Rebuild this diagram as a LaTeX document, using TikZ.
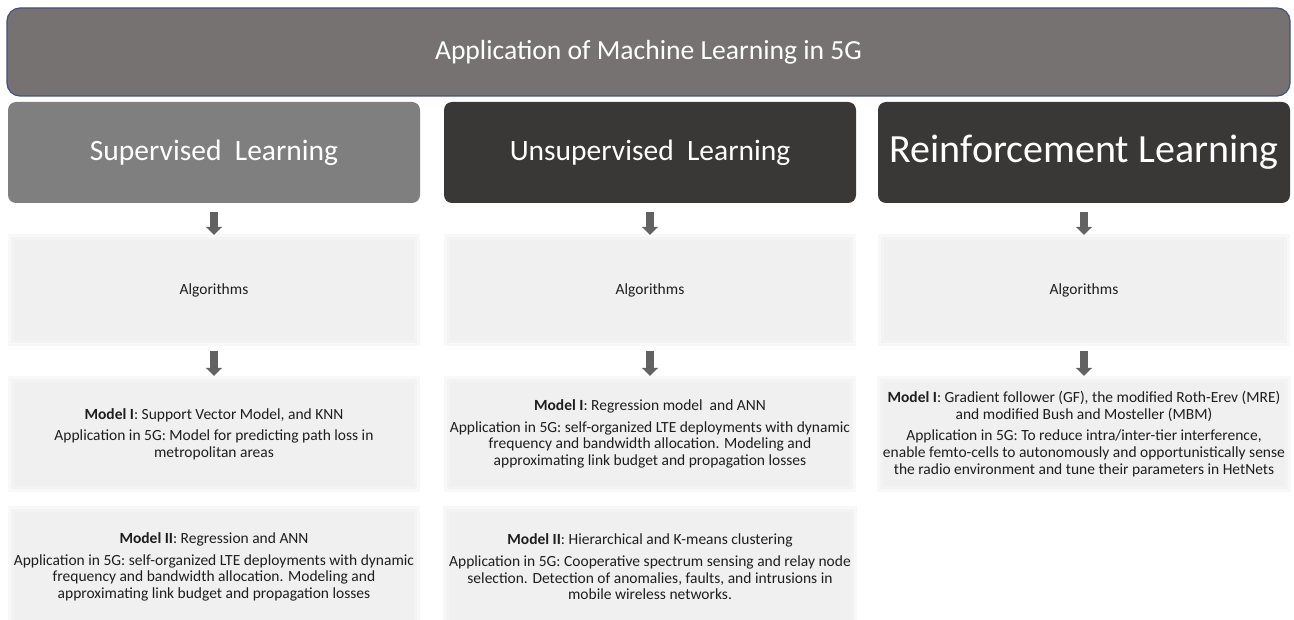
\documentclass[tikz,border=0pt]{standalone}
\usepackage{fontspec}
\setmainfont{Carlito}
\usetikzlibrary{arrows.meta}
\definecolor{bannerfill}{HTML}{777272}
\definecolor{bannerline}{HTML}{46507E}
\definecolor{supgray}{HTML}{7F7F7F}
\definecolor{darkhead}{HTML}{3A3737}
\definecolor{lightbox}{HTML}{F0F0F0}
\definecolor{lightedgea}{HTML}{F3F3F3}
\definecolor{lightedgeb}{HTML}{F8F8F8}
\definecolor{arrowgray}{HTML}{626262}
\definecolor{textdark}{HTML}{1E1E1E}
\begin{document}
\begin{tikzpicture}[x=1pt,y=-1pt,
  bannerbox/.style={fill=bannerfill, draw=bannerline, line width=1.2pt, rounded corners=13pt,
    minimum width=1283pt, minimum height=88pt, text=white, inner sep=0pt,
    font=\fontsize{27.6}{32}\selectfont},
  headbox/.style={rounded corners=8pt, minimum width=412pt, minimum height=101pt,
    text=white, inner sep=0pt, font=\fontsize{29.5}{34}\selectfont},
  softbox/.style={fill=lightbox,
    preaction={draw=lightedgeb, line width=12pt},
    preaction={draw=lightedgea, line width=6pt},
    minimum width=400pt,
    align=center, inner sep=0pt, text=textdark, font=\fontsize{15.5}{16.6}\selectfont},
  downarrow/.style={draw=arrowgray, line width=8pt, -{Triangle[width=16pt,length=8pt]}}
]
\useasboundingbox (0,0) rectangle (1294,620);
\fill[white] (0,0) rectangle (1294,620);

% banner
\node[bannerbox] (top) at (648.5,52) {Application of Machine Learning in 5G};

% headers
\node[headbox, fill=supgray] (h1) at (214,152.5) {\raisebox{-3pt}{Supervised~~Learning}};
\node[headbox, fill=darkhead] (h2) at (650,152.5) {\raisebox{-3pt}{Unsupervised~~Learning}};
\node[headbox, fill=darkhead, font=\fontsize{40}{44}\selectfont] (h3) at (1084,152.5) {Reinforcement Learning};

% algorithm boxes
\node[softbox, minimum height=100pt] (a1) at (214,290) {Algorithms};
\node[softbox, minimum height=100pt] (a2) at (650,290) {Algorithms};
\node[softbox, minimum height=100pt] (a3) at (1084,290) {Algorithms};

% model I boxes
\node[softbox, minimum height=104pt] (m1a) at (214,434) {\textbf{Model I}: Support Vector Model, and KNN\\[5pt]
Application in 5G: Model for predicting path loss in\\ metropolitan areas};
\node[softbox, minimum height=104pt] (m1b) at (650,434) {\textbf{Model I}: Regression model~~and ANN\\[5pt]
Application in 5G: self-organized LTE deployments with dynamic\\
frequency and bandwidth allocation. Modeling and\\
approximating link budget and propagation losses};
\node[softbox, minimum height=104pt] (m1c) at (1084,434) {\textbf{Model I}: Gradient follower (GF), the modified Roth-Erev (MRE)\\
and modified Bush and Mosteller (MBM)\\[5pt]
Application in 5G: To reduce intra/inter-tier interference,\\
enable femto-cells to autonomously and opportunistically sense\\
the radio environment and tune their parameters in HetNets};

% model II boxes
\node[softbox, minimum height=110pt] (m2a) at (214,567) {\textbf{Model II}: Regression and ANN\\[5pt]
Application in 5G: self-organized LTE deployments with dynamic\\
frequency and bandwidth allocation. Modeling and\\
approximating link budget and propagation losses};
\node[softbox, minimum height=110pt] (m2b) at (650,567) {\textbf{Model II}: Hierarchical and K-means clustering\\[5pt]
Application in 5G: Cooperative spectrum sensing and relay node\\
selection. Detection of anomalies, faults, and intrusions in\\
mobile wireless networks.};

% arrows
\foreach \c in {1,2,3}{
  \draw[downarrow, shorten <=9pt, shorten >=5pt] (h\c.south) -- (a\c.north);
}
\draw[downarrow, shorten <=11pt, shorten >=6pt] (a1.south) -- (m1a.north);
\draw[downarrow, shorten <=11pt, shorten >=6pt] (a2.south) -- (m1b.north);
\draw[downarrow, shorten <=11pt, shorten >=6pt] (a3.south) -- (m1c.north);
\end{tikzpicture}
\end{document}
